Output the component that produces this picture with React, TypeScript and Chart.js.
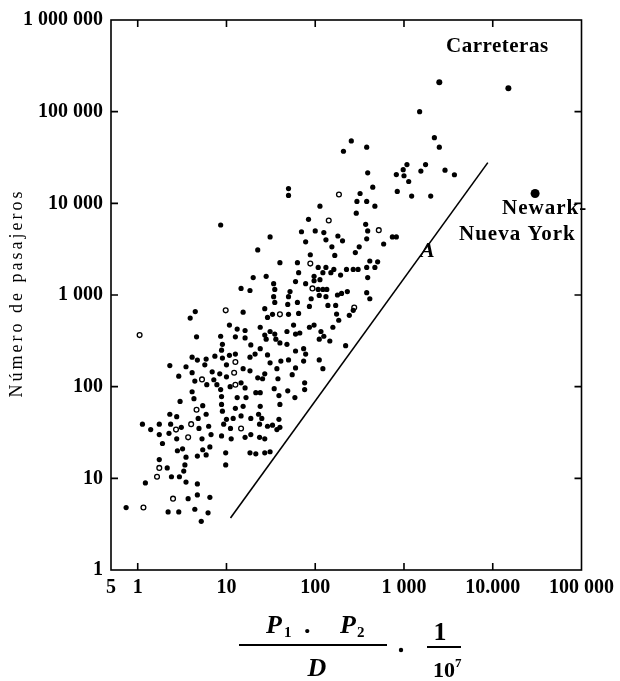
import React, { useEffect, useRef } from "react";
import { Chart, registerables } from "chart.js";

Chart.register(...registerables);

// Axis ticks
const xTickValues = [0.5, 1, 10, 100, 1000, 10000, 100000];
const xTickLabels = ["5", "1", "10", "100", "1 000", "10.000", "100 000"];
const yTickValues = [1, 10, 100, 1000, 10000, 100000, 1000000];
const yTickLabels = ["1", "10", "100", "1 000", "10 000", "100 000", "1 000 000"];

// Filled markers (x = P1·P2/D·1/10^7, y = número de pasajeros)
const filledX = [
  2.9, 4.4, 6.0, 4.1, 4.3, 3.0, 5.4, 2.3, 2.75, 5.9, 4.8, 1.13, 1.4, 1.75, 2.35, 3.1, 4.9, 6.3, 1.75, 2.25,
  2.75, 5.3, 6.7, 1.9, 3.2, 2.8, 5.4, 6.5, 5.9, 4.7, 3.5, 1.75, 2.15, 3.4, 3.3, 2.95, 2.4, 1.22, 3.5, 4.7,
  3.7, 4.7, 6.5, 0.74, 2.2, 2.9, 4.4, 6.2, 5.2, 9.8, 9.8, 8.8, 11.3, 9.3, 10, 9.0, 8.8, 8.8, 11, 7.8,
  8.6, 7.2, 10, 8.6, 4.45, 3.9, 10.8, 4.6, 8.6, 9.0, 8.8, 4.1, 4.7, 5.9, 7.4, 9.0, 10.8, 2.3, 3.5, 5.7,
  10, 4.1, 6.9, 8.4, 50, 50, 113, 84, 70, 100, 125, 31, 78, 132, 22.5, 88, 40, 63, 65, 108,
  132, 97, 122, 20, 28, 60, 78, 97, 113, 34, 14.6, 18.4, 35, 108, 122, 135, 52, 111, 132, 34,
  50, 63, 90, 35, 49, 139, 86, 27, 15.4, 33, 50, 65, 29, 24, 57, 86, 97, 13.2, 16.2, 31,
  35, 48, 67, 27, 116, 12.6, 16.2, 28, 36, 40, 60, 111, 125, 18.8, 48, 24, 21, 29, 60, 74,
  78, 12.6, 41, 50, 74, 111, 31, 18.4, 15.4, 18.4, 37, 60, 122, 27, 22.5, 14.6, 25.5, 38, 55, 16.2,
  76, 13.2, 16.6, 21.4, 24, 34.5, 49, 76, 39, 59, 24, 40, 12.6, 15.4, 23, 11.9, 14.6, 18.8, 25, 39,
  23.6, 29, 33, 40, 11.1, 37, 16.2, 18.8, 23.6, 27, 18.4, 21.4, 27, 31, 1500, 255, 208, 380, 390, 445,
  320, 295, 380, 470, 290, 370, 390, 740, 820, 590, 180, 203, 380, 154, 313, 283, 166, 412, 505, 162,
  225, 268, 304, 380, 470, 193, 150, 390, 178, 198, 230, 380, 412, 170, 268, 174, 242, 184, 158, 146,
  220, 2200, 2500, 1750, 1550, 1080, 980, 1000, 820, 2900, 3700, 1130, 840, 1220, 2000,
];
const filledY = [
  130, 115, 105, 88, 74, 69, 62, 50, 47, 50, 45, 39, 34, 39, 39, 36, 35, 37, 30, 31,
  27, 27, 30, 24, 21, 20, 20.5, 22, 18, 17.5, 17, 16, 13, 14, 12, 10.4, 10.4, 8.9, 9.1, 8.7,
  6.0, 6.6, 6.2, 4.8, 4.3, 4.3, 4.6, 4.2, 3.4, 19, 14, 29, 27, 39, 44, 54, 78, 64, 100, 105,
  93, 119, 128, 5800, 660, 560, 470, 350, 355, 290, 250, 210, 195, 200, 215, 205, 220, 170, 165, 173,
  173, 142, 145, 138, 14500, 12200, 9300, 6700, 4900, 5000, 4800, 4300, 3800, 4000, 3100, 2750, 2250, 2250, 1750, 2000,
  2000, 1600, 1750, 1550, 1600, 1400, 1330, 1430, 1470, 1330, 1180, 1120, 1150, 1150, 1150, 1150, 1090, 990, 960, 960,
  960, 830, 910, 830, 790, 770, 750, 710, 650, 615, 615, 630, 570, 445, 470, 445, 470, 425, 410, 400,
  375, 400, 385, 365, 400, 350, 340, 330, 330, 300, 375, 330, 355, 285, 290, 260, 227, 222, 245, 260,
  227, 227, 190, 196, 190, 196, 182, 210, 157, 149, 157, 160, 157, 138, 125, 110, 122, 122, 135, 97,
  110, 76, 76, 86, 86, 95, 90, 93, 80, 76, 61, 64, 58, 61, 50, 45, 48, 45, 45, 44,
  39, 37, 38, 36, 35, 34, 28, 30, 28, 27, 19, 18.5, 19, 19.5, 100000, 48000, 37000, 41000, 21500, 15000,
  12800, 10500, 10500, 9300, 7800, 5900, 5000, 4300, 4300, 3600, 4400, 3900, 4100, 3350, 3350, 2900, 2700, 2350, 2300, 1900,
  1900, 1900, 1900, 2000, 2000, 1650, 1750, 1550, 1000, 1040, 1090, 1060, 910, 770, 680, 620, 600, 530, 445, 315,
  280, 52000, 41000, 26500, 22500, 26500, 23300, 20000, 20600, 23000, 20500, 17300, 13500, 12000, 12000,
];

// Open (hollow) markers
const openX = [5.3, 4.6, 4.0, 2.7, 3.7, 1.75, 1.65, 2.5, 1.16, 9.8, 1.05, 142, 88, 93, 40, 12.6, 12.2, 12.6, 14.6, 520, 275, 185];
const openY = [120, 56, 39, 34, 28, 13, 10.4, 6.0, 4.8, 680, 365, 6500, 2200, 1180, 615, 186, 142, 105, 35, 5100, 730, 12500];

// Highway (Carreteras) points and Newark–Nueva York
const carreterasX = [2500, 15000];
const carreterasY = [210000, 180000];
const newarkX = [30000];
const newarkY = [12800];

// Line A
const lineAX = [11.1, 8800];
const lineAY = [3.7, 27800];

const SERIF = '"Liberation Serif", "DejaVu Serif", serif';

const toPoints = (xs: number[], ys: number[]) => xs.map((x, i) => ({ x, y: ys[i] }));

const decorations = {
  id: "decorations",
  afterDraw(chart: any) {
    const { ctx, chartArea: a, scales } = chart;
    const xs = scales.x;
    const ys = scales.y;
    ctx.save();
    ctx.strokeStyle = "#000";
    ctx.fillStyle = "#000";
    ctx.lineWidth = 1.6;
    ctx.strokeRect(a.left, a.top, a.right - a.left, a.bottom - a.top);
    const tl = 7;
    ctx.beginPath();
    for (const v of xTickValues) {
      const px = xs.getPixelForValue(v);
      if (px <= a.left + 2 || px >= a.right - 2) continue;
      ctx.moveTo(px, a.bottom);
      ctx.lineTo(px, a.bottom - tl);
      ctx.moveTo(px, a.top);
      ctx.lineTo(px, a.top + tl);
    }
    for (const v of yTickValues) {
      const py = ys.getPixelForValue(v);
      if (py <= a.top + 2 || py >= a.bottom - 2) continue;
      ctx.moveTo(a.left, py);
      ctx.lineTo(a.left + tl, py);
      ctx.moveTo(a.right, py);
      ctx.lineTo(a.right - tl, py);
    }
    ctx.stroke();

    // Y axis title
    ctx.save();
    ctx.translate(17, 293);
    ctx.rotate(-Math.PI / 2);
    ctx.font = `18px ${SERIF}`;
    (ctx as any).letterSpacing = "3px";
    ctx.textAlign = "center";
    ctx.textBaseline = "middle";
    ctx.fillText("Número de pasajeros", 0, 0);
    ctx.restore();

    // Annotations
    ctx.textBaseline = "alphabetic";
    ctx.textAlign = "left";
    ctx.font = `bold 21px ${SERIF}`;
    (ctx as any).letterSpacing = "0.5px";
    ctx.fillText("Carreteras", 446, 52);
    (ctx as any).letterSpacing = "1px";
    ctx.fillText("Newark-", 502, 214);
    ctx.fillText("Nueva York", 459, 240);
    (ctx as any).letterSpacing = "0px";
    ctx.font = `italic bold 22px ${SERIF}`;
    ctx.fillText("A", 420, 257);

    // X axis title: P1 . P2 / D · 1/10^7
    ctx.font = `italic bold 26px ${SERIF}`;
    ctx.fillText("P", 266, 633);
    ctx.fillText("P", 340, 633);
    ctx.font = `bold 15px ${SERIF}`;
    ctx.fillText("1", 284, 637);
    ctx.fillText("2", 357, 637);
    ctx.font = `bold 26px ${SERIF}`;
    ctx.fillText(".", 304, 633);
    ctx.fillRect(239, 644, 148, 2);
    ctx.textAlign = "center";
    ctx.font = `italic bold 26px ${SERIF}`;
    ctx.fillText("D", 317, 676);
    ctx.beginPath();
    ctx.arc(401, 650, 2.2, 0, Math.PI * 2);
    ctx.fill();
    ctx.font = `bold 26px ${SERIF}`;
    ctx.fillText("1", 440, 640);
    ctx.fillRect(427, 646, 34, 2);
    ctx.textAlign = "left";
    ctx.font = `bold 22px ${SERIF}`;
    ctx.fillText("10", 433, 677);
    ctx.font = `bold 13px ${SERIF}`;
    ctx.fillText("7", 455, 667);
    ctx.restore();
  },
};

export default function App() {
  const canvasRef = useRef<HTMLCanvasElement | null>(null);

  useEffect(() => {
    if (!canvasRef.current) return;
    const tickFont = { family: SERIF, size: 20, weight: "bold" as const };
    const chart = new Chart(canvasRef.current, {
      type: "scatter",
      data: {
        datasets: [
          {
            label: "Rutas",
            data: toPoints(filledX, filledY),
            backgroundColor: "#000",
            borderColor: "#000",
            pointRadius: 2.6,
            borderWidth: 0,
          },
          {
            label: "Rutas (abiertos)",
            data: toPoints(openX, openY),
            backgroundColor: "#fff",
            borderColor: "#000",
            pointRadius: 2.4,
            borderWidth: 1.3,
          },
          {
            label: "Carreteras",
            data: toPoints(carreterasX, carreterasY),
            backgroundColor: "#000",
            borderColor: "#000",
            pointRadius: 3,
            borderWidth: 0,
          },
          {
            label: "Newark-Nueva York",
            data: toPoints(newarkX, newarkY),
            backgroundColor: "#000",
            borderColor: "#000",
            pointRadius: 4.5,
            borderWidth: 0,
          },
          {
            label: "A",
            type: "line" as any,
            data: toPoints(lineAX, lineAY),
            borderColor: "#000",
            borderWidth: 1.6,
            pointRadius: 0,
            showLine: true,
            fill: false,
          } as any,
        ],
      },
      options: {
        responsive: false,
        animation: false,
        layout: { padding: { top: 15, right: 28, left: 0, bottom: 0 } },
        plugins: { legend: { display: false }, tooltip: { enabled: false } },
        scales: {
          x: {
            type: "logarithmic",
            min: 0.5,
            max: 100000,
            grid: { display: false, drawTicks: false },
            border: { display: false },
            afterBuildTicks: (scale: any) => {
              scale.ticks = xTickValues.map((v) => ({ value: v }));
            },
            afterFit: (scale: any) => {
              scale.height = 111;
            },
            ticks: {
              autoSkip: false,
              maxRotation: 0,
              minRotation: 0,
              padding: 6,
              color: "#000",
              font: tickFont,
              callback: (_v: any, i: number) => xTickLabels[i],
            },
          },
          y: {
            type: "logarithmic",
            min: 1,
            max: 1000000,
            grid: { display: false, drawTicks: false },
            border: { display: false },
            afterBuildTicks: (scale: any) => {
              scale.ticks = yTickValues.map((v) => ({ value: v }));
            },
            afterFit: (scale: any) => {
              scale.width = 111;
            },
            ticks: {
              autoSkip: false,
              padding: 8,
              color: "#000",
              font: tickFont,
              callback: (_v: any, i: number) => yTickLabels[i],
            },
          },
        },
      },
      plugins: [decorations],
    });
    return () => chart.destroy();
  }, []);

  return (
    <div style={{ position: "absolute", left: 0, top: 0, width: 620, height: 681, background: "#fff" }}>
      <canvas ref={canvasRef} width={620} height={681} style={{ display: "block" }} />
    </div>
  );
}
